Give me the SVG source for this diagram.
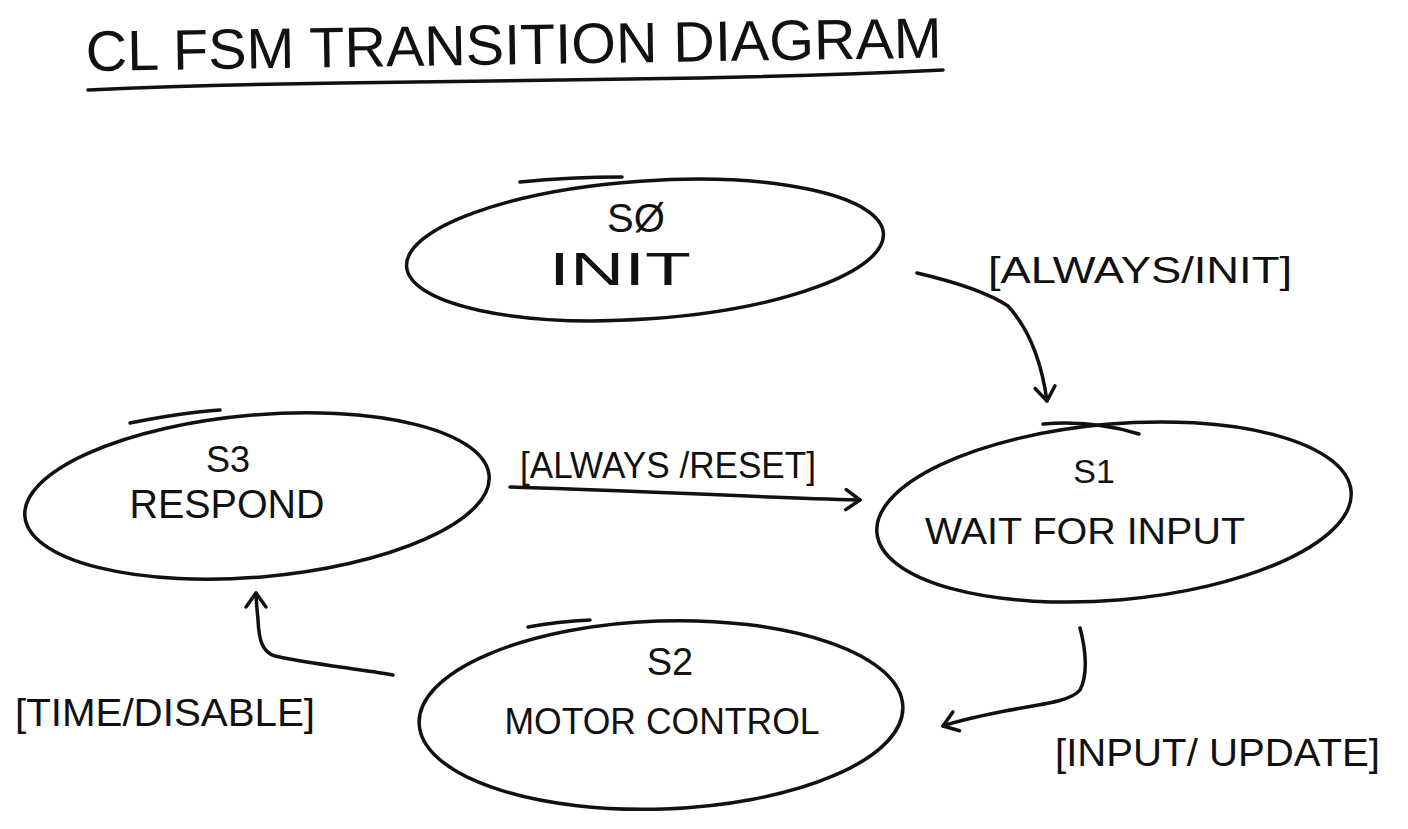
<svg xmlns="http://www.w3.org/2000/svg" width="1408" height="829" viewBox="0 0 1408 829">
<defs>
<style>
.ink{fill:none;stroke:#111;stroke-width:3.5;stroke-linecap:round;stroke-linejoin:round}
.t{font-family:"Liberation Sans","DejaVu Sans",sans-serif;fill:#111;text-anchor:middle}
.lbl{font-family:"Liberation Sans","DejaVu Sans",sans-serif;fill:#111}
</style>
<marker id="arr" viewBox="-20 -12 24 24" markerWidth="24" markerHeight="24" refX="0" refY="0" orient="auto" markerUnits="userSpaceOnUse">
<path d="M-14,-10 L0,0 L-14,10" fill="none" stroke="#111" stroke-width="3.5" stroke-linecap="round" stroke-linejoin="round"/>
</marker>
</defs>
<rect width="1408" height="829" fill="#fff"/>

<g id="title">
<text class="lbl" x="86" y="71" font-size="57" textLength="856" lengthAdjust="spacingAndGlyphs" transform="rotate(-0.9 86 71)">CL FSM TRANSITION DIAGRAM</text>
<path class="ink" d="M88,90 C180,86 270,84 340,83 C480,82 600,80 700,78 C800,76 880,73 943,70"/>
</g>

<g id="s0">
<ellipse class="ink" cx="645" cy="250" rx="239" ry="69" transform="rotate(-4 645 250)"/>
<path class="ink" d="M520,182 C560,178 590,177 622,177"/>
<text class="t" x="636" y="232" font-size="40">SØ</text>
<text class="t" x="620" y="285" font-size="46" textLength="142" lengthAdjust="spacingAndGlyphs">INIT</text>
</g>

<g id="s1">
<ellipse class="ink" cx="1114" cy="512" rx="238" ry="88" transform="rotate(-5 1114 512)"/>
<path class="ink" d="M1043,424 C1080,421 1110,425 1139,434"/>
<text class="t" x="1094" y="483" font-size="34">S1</text>
<text class="t" x="1085" y="544" font-size="36" textLength="320" lengthAdjust="spacingAndGlyphs">WAIT FOR INPUT</text>
</g>

<g id="s3">
<ellipse class="ink" cx="257" cy="496" rx="233" ry="81" transform="rotate(-5 257 496)"/>
<path class="ink" d="M130,423 C160,417 190,412 220,410"/>
<text class="t" x="228" y="472" font-size="36">S3</text>
<text class="t" x="227" y="518" font-size="40" textLength="195" lengthAdjust="spacingAndGlyphs">RESPOND</text>
</g>

<g id="s2">
<ellipse class="ink" cx="661" cy="715" rx="242" ry="94" transform="rotate(-2 661 715)"/>
<path class="ink" d="M528,627 C550,623 570,621 590,620"/>
<text class="t" x="670" y="675" font-size="38">S2</text>
<text class="t" x="662" y="734" font-size="36" textLength="315" lengthAdjust="spacingAndGlyphs">MOTOR CONTROL</text>
</g>

<g id="connectors">
<path class="ink" marker-end="url(#arr)" d="M917,273 C960,283 990,294 1008,306 C1030,330 1042,365 1047,401"/>
<path class="ink" marker-end="url(#arr)" d="M510,487 C620,490 720,496 860,500"/>
<path class="ink" marker-end="url(#arr)" d="M1080,628 C1086,650 1088,675 1080,690 C1070,702 1040,704 1000,712 C975,717 960,720 943,726"/>
<path class="ink" marker-end="url(#arr)" d="M393,675 C350,668 300,662 275,656 C262,652 259,640 258,620 C257,608 256,600 256,593"/>
</g>

<g id="labels">
<text class="lbl" x="988" y="283" font-size="36" textLength="304" lengthAdjust="spacingAndGlyphs">[ALWAYS/INIT]</text>
<text class="lbl" x="520" y="478" font-size="36" textLength="296" lengthAdjust="spacingAndGlyphs">[ALWAYS /RESET]</text>
<text class="lbl" x="15" y="726" font-size="38" textLength="300" lengthAdjust="spacingAndGlyphs">[TIME/DISABLE]</text>
<text class="lbl" x="1055" y="766" font-size="38" textLength="325" lengthAdjust="spacingAndGlyphs">[INPUT/ UPDATE]</text>
</g>
</svg>
